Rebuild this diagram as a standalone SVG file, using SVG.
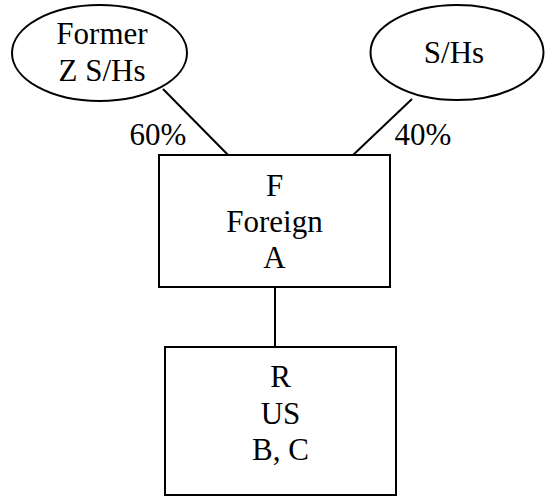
<svg xmlns="http://www.w3.org/2000/svg" width="551" height="497" viewBox="0 0 551 497">
  <style>
    .shape { fill: #fff; stroke: #000; stroke-width: 2; }
    .link { stroke: #000; stroke-width: 2; fill: none; }
    text { font-family: "Liberation Serif", "DejaVu Serif", "Times New Roman", Times, serif; font-size: 31px; fill: #000; text-anchor: middle; }
  </style>
  <rect width="551" height="497" fill="#fff"/>

  <!-- ownership connectors -->
  <g id="connectors">
    <line class="link" x1="163" y1="89" x2="231" y2="158"/>
    <line class="link" x1="412" y1="99" x2="352" y2="156"/>
    <line class="link" x1="275" y1="287" x2="275" y2="347"/>
    <text x="158" y="145" font-family="Liberation Serif, serif">60%</text>
    <text x="423" y="145" font-family="Liberation Serif, serif">40%</text>
  </g>

  <g id="former-shareholders" font-family="Liberation Serif, serif">
    <ellipse class="shape" cx="99.5" cy="53" rx="87.5" ry="48"/>
    <text x="102" y="44">Former</text>
    <text x="102" y="81">Z S/Hs</text>
  </g>

  <g id="shareholders">
    <ellipse class="shape" cx="457" cy="52.5" rx="86.5" ry="47.5"/>
    <text x="454" y="63">S/Hs</text>
  </g>

  <g id="foreign-f">
    <rect class="shape" x="159" y="155" width="231" height="132"/>
    <text x="274.5" y="196">F</text>
    <text x="274.5" y="232">Foreign</text>
    <text x="274.5" y="268">A</text>
  </g>

  <g id="us-r">
    <rect class="shape" x="165" y="347" width="231" height="148"/>
    <text x="280.5" y="387">R</text>
    <text x="280.5" y="424">US</text>
    <text x="280.5" y="460">B, C</text>
  </g>
</svg>
